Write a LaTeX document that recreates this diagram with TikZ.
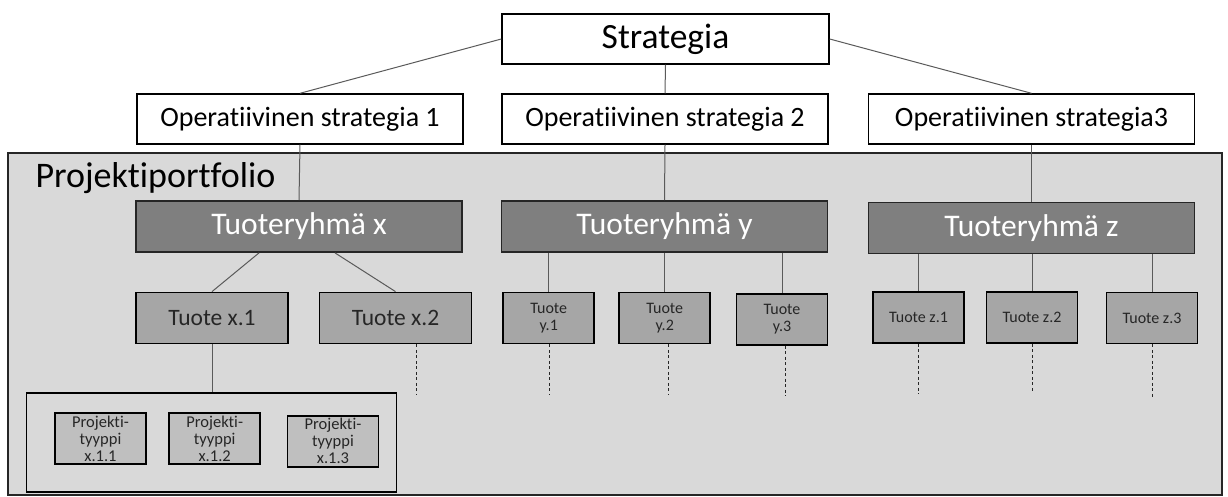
\documentclass[tikz,border=0pt]{standalone}
\usepackage{fontspec}
\setmainfont{Carlito}[Ligatures={NoCommon}]
\definecolor{groupfill}{HTML}{7F7F7F}
\definecolor{prodfill}{HTML}{A6A6A6}
\definecolor{typefill}{HTML}{BFBFBF}
\definecolor{portfill}{HTML}{D9D9D9}
\definecolor{linkcol}{HTML}{5A5A5A}
\definecolor{inkcol}{HTML}{262626}
\begin{document}
\begin{tikzpicture}[x=1pt,y=-1pt,
  box/.style={draw=black, line width=1.4pt, inner sep=0pt, align=center},
  topbox/.style={box, fill=white, minimum width=326pt, minimum height=50pt,
    font=\fontsize{28}{30}\selectfont},
  groupbox/.style={box, draw=inkcol, line width=1.8pt, fill=groupfill, text=white,
    minimum width=326pt, minimum height=51pt, font=\fontsize{31.5}{33}\selectfont},
  prodbox/.style={box, draw=black, line width=1.8pt, fill=prodfill, text=inkcol,
    minimum height=51pt},
  bigprod/.style={prodbox, minimum width=152pt, font=\fontsize{23.5}{25}\selectfont},
  smallprod/.style={prodbox, minimum width=91pt, font=\fontsize{16}{17}\selectfont},
  typebox/.style={box, draw=black, line width=1.8pt, fill=typefill, text=inkcol,
    minimum width=91pt, minimum height=51pt, font=\fontsize{16.5}{17}\selectfont},
  link/.style={draw=linkcol, line width=1pt},
  dashlink/.style={draw=inkcol, line width=1pt, dash pattern=on 3pt off 2.5pt},
]
\useasboundingbox (0,0) rectangle (1228,497);

% portfolio area
\node[draw=inkcol, line width=1.5pt, fill=portfill, minimum width=1214pt,
  minimum height=342pt, inner sep=0pt] (portf) at (615,324) {};
\node[anchor=base west, font=\fontsize{36}{40}\selectfont, text=black] (ptitle)
  at (32,188) {Projektiportfolio};

% strategy levels
\node[topbox, minimum width=327pt, font=\fontsize{35.5}{38}\selectfont] (strat) at (665.5,39) {Strategia};
\node[topbox] (op1) at (300,119) {Operatiivinen strategia 1};
\node[topbox] (op2) at (665,119) {Operatiivinen strategia 2};
\node[topbox] (op3) at (1031.5,119) {Operatiivinen strategia3};

% product groups
\node[groupbox] (tx) at (299,226.5) {Tuoteryhmä x};
\node[groupbox] (ty) at (664.5,226.5) {Tuoteryhmä y};
\node[groupbox] (tz) at (1031.5,228) {Tuoteryhmä z};

% products
\node[bigprod] (px1) at (212,318) {Tuote x.1};
\node[bigprod] (px2) at (395.5,318) {Tuote x.2};
\node[smallprod] (py1) at (548.7,318) {Tuote\\y.1};
\node[smallprod] (py2) at (664.7,318) {Tuote\\y.2};
\node[smallprod] (py3) at (782,319.3) {Tuote\\y.3};
\node[smallprod] (pz1) at (918.5,317.5) {Tuote z.1};
\node[smallprod] (pz2) at (1032,317.5) {Tuote z.2};
\node[smallprod] (pz3) at (1152,318) {Tuote z.3};

% project types of product x.1
\node[draw=black, line width=1.5pt, fill=portfill, minimum width=370pt,
  minimum height=99pt, inner sep=0pt] (types) at (211.7,442.3) {};
\node[typebox] (pt1) at (100.5,438.7) {Projekti-\\tyyppi\\x.1.1};
\node[typebox] (pt2) at (214.7,438.7) {Projekti-\\tyyppi\\x.1.2};
\node[typebox] (pt3) at (333,441.3) {Projekti-\\tyyppi\\x.1.3};

% connectors
\draw[link] (strat.west) -- (op1.north);
\draw[link] (strat.south) -- (op2.north);
\draw[link] (strat.east) -- (op3.north);
\draw[link] (op1.south) -- (tx.north);
\draw[link] (op2.south) -- (ty.north);
\draw[link] (op3.south) -- (tz.north);
\draw[link] ([xshift=-40pt]tx.south) -- (px1.north);
\draw[link] ([xshift=36pt]tx.south) -- (px2.north);
\foreach \p in {py1,py2,py3}{
  \draw[link] (\p.north |- ty.south) -- (\p.north);
}
\foreach \p in {pz1,pz2,pz3}{
  \draw[link] (\p.north |- tz.south) -- (\p.north);
}
\draw[link] (px1.south) -- (types.north -| px1.south);

% open continuations below the products
\draw[dashlink] ([xshift=20.5pt]px2.south) -- ++(0,51);
\draw[dashlink] ([xshift=1pt]py1.south) -- ++(0,50);
\draw[dashlink] ([xshift=4pt]py2.south) -- ++(0,51);
\draw[dashlink] ([xshift=3pt]py3.south) -- ++(0,50);
\draw[dashlink] (pz1.south) -- ++(0,50);
\draw[dashlink] (pz2.south) -- ++(0,49);
\draw[dashlink] (pz3.south) -- ++(0,53);
\end{tikzpicture}
\end{document}
